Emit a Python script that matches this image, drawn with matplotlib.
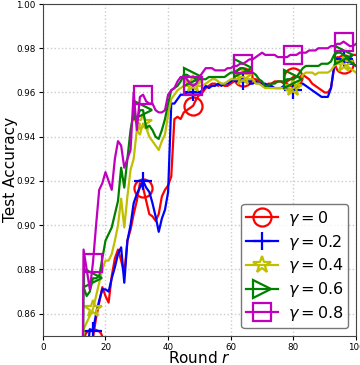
import numpy as np
import matplotlib
matplotlib.use('Agg')
import matplotlib.pyplot as plt

# ==============================================================================
# DATA (rounds 12..100)
# ==============================================================================
ROUNDS = np.arange(12, 101)

ACC_G0 = [
    0.700, 0.800, 0.830, 0.845, 0.849, 0.858, 0.865, 0.872, 0.868, 0.865,
    0.877, 0.885, 0.889, 0.884, 0.878, 0.893, 0.898, 0.905, 0.911, 0.919,
    0.917, 0.911, 0.905, 0.904, 0.902, 0.905, 0.913, 0.916, 0.918, 0.922,
    0.948, 0.949, 0.948, 0.951, 0.952, 0.953, 0.954, 0.957, 0.959, 0.960,
    0.962, 0.963, 0.964, 0.964, 0.963, 0.964, 0.963, 0.963, 0.964, 0.965,
    0.966, 0.966, 0.967, 0.966, 0.965, 0.966, 0.966, 0.965, 0.964, 0.963,
    0.964, 0.964, 0.965, 0.965, 0.965, 0.964, 0.965, 0.966, 0.967, 0.967,
    0.967, 0.968, 0.967, 0.966, 0.964, 0.963, 0.962, 0.961, 0.960, 0.960,
    0.962, 0.971, 0.976, 0.975, 0.973, 0.975, 0.976, 0.977, 0.977,
]
ACC_G02 = [
    0.700, 0.800, 0.840, 0.853, 0.852, 0.860, 0.866, 0.871, 0.871, 0.870,
    0.876, 0.881, 0.887, 0.890, 0.874, 0.893, 0.900, 0.910, 0.914, 0.917,
    0.920, 0.917, 0.915, 0.910, 0.904, 0.897, 0.903, 0.907, 0.915, 0.955,
    0.955, 0.957, 0.959, 0.959, 0.960, 0.960, 0.960, 0.960, 0.960, 0.961,
    0.963, 0.962, 0.963, 0.963, 0.964, 0.963, 0.964, 0.964, 0.965, 0.966,
    0.965, 0.965, 0.965, 0.965, 0.964, 0.964, 0.965, 0.964, 0.964, 0.964,
    0.963, 0.963, 0.962, 0.962, 0.962, 0.963, 0.962, 0.961, 0.961, 0.962,
    0.963, 0.964, 0.963, 0.962, 0.961, 0.960, 0.959, 0.958, 0.958, 0.958,
    0.962, 0.972, 0.975, 0.974, 0.975, 0.974, 0.973, 0.973, 0.972,
]
ACC_G04 = [
    0.700, 0.853, 0.856, 0.859, 0.862, 0.868, 0.874, 0.880, 0.884, 0.884,
    0.887, 0.893, 0.900, 0.912, 0.899, 0.913, 0.925, 0.930, 0.943, 0.941,
    0.946, 0.944, 0.940, 0.938, 0.936, 0.934, 0.938, 0.941, 0.950, 0.957,
    0.959, 0.961, 0.962, 0.963, 0.963, 0.963, 0.964, 0.963, 0.963, 0.963,
    0.964, 0.965, 0.966, 0.966, 0.965, 0.964, 0.964, 0.965, 0.966, 0.966,
    0.966, 0.967, 0.967, 0.966, 0.966, 0.966, 0.964, 0.964, 0.963, 0.962,
    0.962, 0.962, 0.962, 0.962, 0.962, 0.962, 0.961, 0.961, 0.962, 0.963,
    0.965, 0.968, 0.969, 0.969, 0.969, 0.968, 0.969, 0.969, 0.969, 0.969,
    0.970, 0.972, 0.973, 0.974, 0.973, 0.972, 0.971, 0.970, 0.969,
]
ACC_G06 = [
    0.700, 0.872, 0.868, 0.870, 0.876, 0.876, 0.877, 0.885, 0.893, 0.896,
    0.899, 0.905, 0.911, 0.926, 0.917, 0.930, 0.943, 0.951, 0.948, 0.952,
    0.952, 0.944, 0.945, 0.943, 0.940, 0.939, 0.943, 0.948, 0.955, 0.961,
    0.962, 0.963, 0.965, 0.968, 0.968, 0.967, 0.967, 0.966, 0.966, 0.966,
    0.966, 0.967, 0.967, 0.967, 0.967, 0.967, 0.967, 0.968, 0.969, 0.969,
    0.970, 0.971, 0.971, 0.970, 0.969, 0.969, 0.968, 0.966, 0.965, 0.963,
    0.963, 0.964, 0.964, 0.965, 0.965, 0.965, 0.966, 0.966, 0.966, 0.967,
    0.969, 0.971, 0.972, 0.972, 0.972, 0.972, 0.972, 0.973, 0.973, 0.973,
    0.974, 0.977, 0.978, 0.978, 0.977, 0.976, 0.974, 0.973, 0.972,
]
ACC_G08 = [
    0.700, 0.889, 0.880, 0.871, 0.883, 0.900, 0.916, 0.919, 0.924, 0.920,
    0.916, 0.930, 0.938, 0.936, 0.926, 0.930, 0.934, 0.960, 0.943, 0.958,
    0.959, 0.956, 0.955, 0.955, 0.952, 0.951, 0.951, 0.952, 0.959, 0.961,
    0.962, 0.965, 0.967, 0.967, 0.966, 0.964, 0.963, 0.964, 0.967, 0.969,
    0.971, 0.971, 0.971, 0.970, 0.970, 0.970, 0.970, 0.971, 0.971, 0.972,
    0.972, 0.973, 0.973, 0.974, 0.975, 0.975, 0.976, 0.977, 0.978, 0.977,
    0.977, 0.977, 0.977, 0.976, 0.976, 0.976, 0.976, 0.977, 0.977, 0.977,
    0.978, 0.978, 0.978, 0.979, 0.979, 0.979, 0.980, 0.980, 0.980, 0.980,
    0.981, 0.981, 0.982, 0.982, 0.983, 0.982, 0.981, 0.981, 0.982,
]

SERIES = [ACC_G0, ACC_G02, ACC_G04, ACC_G06, ACC_G08]
LABELS = [r'$\gamma=0$', r'$\gamma=0.2$', r'$\gamma=0.4$', r'$\gamma=0.6$', r'$\gamma=0.8$']
COLORS = ['r', 'b', 'y', 'g', 'm']
MARKERS = ['o', '+', '*', '>', 's']

# ==============================================================================
# PLOT
# ==============================================================================
fig, ax = plt.subplots(figsize=(3.6, 3.65), dpi=100)
fig.subplots_adjust(left=0.119, right=0.989, top=0.989, bottom=0.08)

for acc, lab, col, mk in zip(SERIES, LABELS, COLORS, MARKERS):
    ax.plot(ROUNDS, acc, color=col, marker=mk, markevery=(4, 16), markersize=13,
            markerfacecolor='none', markeredgewidth=1.6, linewidth=1.6, label=lab)

ax.set_xlim(0, 100)
ax.set_ylim(0.85, 1.0)
ax.set_xticks(np.arange(0, 101, 20))
ax.set_yticks(np.arange(0.86, 1.001, 0.02))
ax.tick_params(labelsize=6.3, length=3, pad=2)
ax.set_xlabel(r'Round $r$', fontsize=11, va='top')
ax.set_ylabel('Test Accuracy', fontsize=11)
ax.xaxis.set_label_coords(0.5, -0.043)
ax.yaxis.set_label_coords(-0.078, 0.5)
ax.grid(True, linestyle=':', color='#cccccc', linewidth=1)
for s in ax.spines.values():
    s.set_color('#444444')

leg = ax.legend(loc='lower right', fontsize=11.5, handlelength=2.0,
                borderpad=0.3, labelspacing=0.3, handletextpad=0.6,
                borderaxespad=0.5)
leg.get_frame().set_edgecolor('#555555')

plt.savefig('out.png', dpi=100)
plt.close()
